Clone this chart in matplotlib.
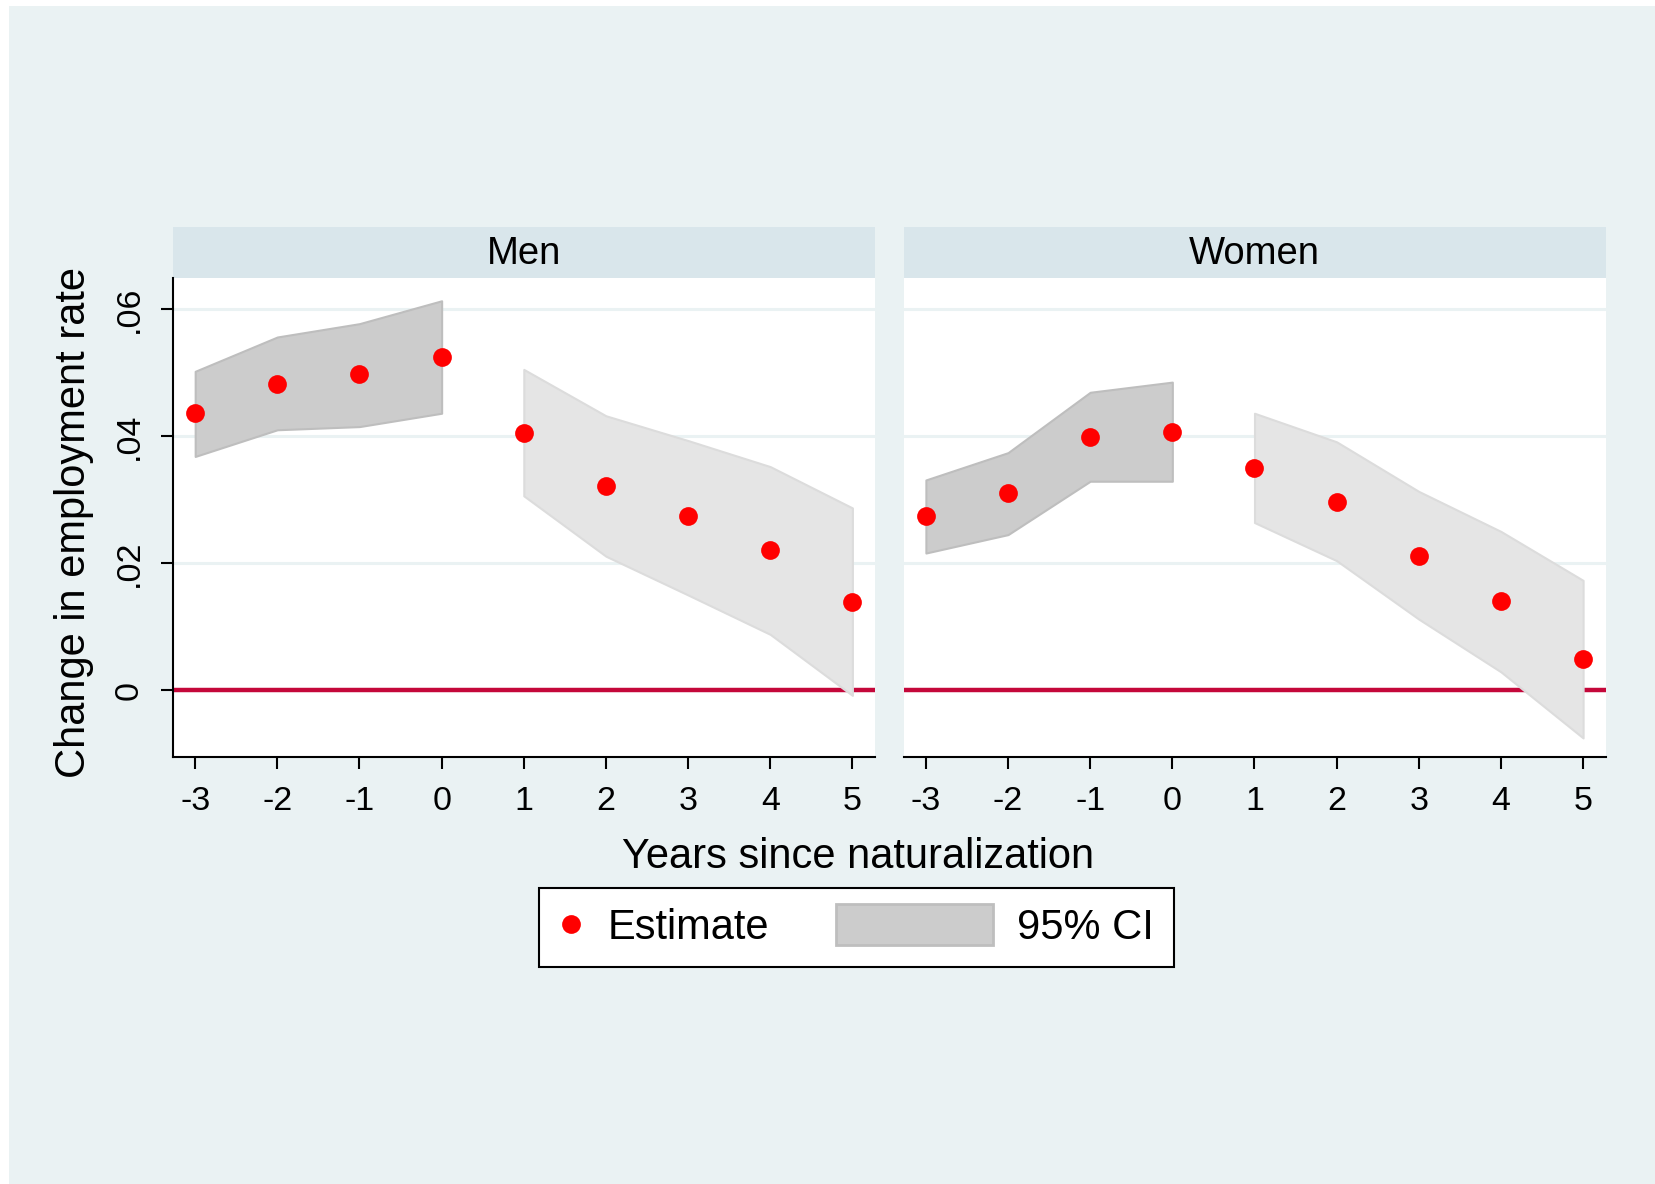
import matplotlib
matplotlib.use("Agg")
import matplotlib.pyplot as plt
import numpy as np
from matplotlib.lines import Line2D
from matplotlib.patches import Patch, Rectangle
from matplotlib.legend_handler import HandlerPatch

plt.rcParams['font.family'] = ['Liberation Sans', 'DejaVu Sans']

# event-study estimates, years relative to naturalization
years = np.array([-3, -2, -1, 0, 1, 2, 3, 4, 5])

men_est = np.array([0.0436, 0.0482, 0.0497, 0.0524, 0.0405, 0.0321, 0.0274, 0.0220, 0.0139])
men_lo = np.array([0.0368, 0.0410, 0.0415, 0.0436, 0.0306, 0.0211, 0.0150, 0.0088, -0.0008])
men_hi = np.array([0.0502, 0.0556, 0.0577, 0.0613, 0.0505, 0.0432, 0.0393, 0.0352, 0.0287])

women_est = np.array([0.0274, 0.0310, 0.0399, 0.0406, 0.0350, 0.0296, 0.0211, 0.0141, 0.0049])
women_lo = np.array([0.0216, 0.0245, 0.0329, 0.0329, 0.0264, 0.0204, 0.0112, 0.0029, -0.0075])
women_hi = np.array([0.0331, 0.0374, 0.0469, 0.0485, 0.0436, 0.0391, 0.0313, 0.0250, 0.0173])

panel_names = ["Men", "Women"]
y_ticks = [0, 0.02, 0.04, 0.06]
y_tick_labels = ["0", ".02", ".04", ".06"]

BG = '#EAF2F3'
STRIP = '#D9E6EB'
GRID = '#EAF2F3'
ZERO = '#C4073A'
PRE_FILL, PRE_EDGE = '#CCCCCC', '#BEBEBE'
POST_FILL, POST_EDGE = '#E5E5E5', '#DCDCDC'

W, H = 1655, 1184
fig = plt.figure(figsize=(W / 100, H / 100), dpi=100, facecolor='white')
fig.add_artist(Rectangle((9 / W, 0), 1, 1 - 6 / H, transform=fig.transFigure,
                         facecolor=BG, edgecolor='none', zorder=-10))

panels = [(men_est, men_lo, men_hi), (women_est, women_lo, women_hi)]
lefts = [173 / W, 903.7 / W]
width = 702 / W
bottom = 1 - 757 / H
height = 479.1 / H
strip_h = 50.9 / 479.1

for i, (est, lo, hi) in enumerate(panels):
    ax = fig.add_axes([lefts[i], bottom, width, height])
    ax.set_facecolor('white')
    ax.set_xlim(-3.27, 5.275)
    ax.set_ylim(-0.0105, 0.0649)

    for g in y_ticks[1:]:
        ax.axhline(g, color=GRID, lw=2.2, zorder=1)
    ax.axhline(0, color=ZERO, lw=3.2, zorder=2)

    pre = years <= 0
    ax.fill_between(years[pre], lo[pre], hi[pre], facecolor=PRE_FILL,
                    edgecolor=PRE_EDGE, lw=1.5, zorder=3)
    ax.fill_between(years[~pre], lo[~pre], hi[~pre], facecolor=POST_FILL,
                    edgecolor=POST_EDGE, lw=1.5, zorder=3)
    ax.plot(years, est, 'o', color='red', ms=13.5, mew=0, zorder=4)

    for side in ['top', 'right']:
        ax.spines[side].set_visible(False)
    ax.spines['bottom'].set_linewidth(1.5)
    ax.spines['left'].set_linewidth(1.5)
    ax.spines['left'].set_visible(i == 0)

    ax.set_xticks(years)
    ax.set_xticklabels([str(y) for y in years])
    ax.tick_params(axis='x', length=8.6, width=1.5, pad=12.5, labelsize=24.5)
    if i == 0:
        ax.set_yticks(y_ticks)
        ax.set_yticklabels(y_tick_labels, rotation=90, va='center')
        ax.tick_params(axis='y', length=8.6, width=1.5, pad=11.5, labelsize=24.5)
    else:
        ax.set_yticks([])

    # facet strip on top of each panel
    ax.add_patch(Rectangle((0, 1), 1, strip_h, transform=ax.transAxes,
                           facecolor=STRIP, edgecolor='none', clip_on=False))
    ax.text(0.5, (757 - 263.8) / 479.1, panel_names[i],
            transform=ax.transAxes, ha='center', va='baseline', fontsize=27.5)

fig.text(74 / W, 1 - 522.5 / H, "Change in employment rate", rotation=90,
         ha='center', va='center', fontsize=30)
fig.text(858 / W, 1 - 867.6 / H, "Years since naturalization",
         ha='center', va='baseline', fontsize=30)


def wide_key(legend, orig_handle, xdescent, ydescent, width, height, fontsize):
    # the CI key is much wider than the marker key
    w = 3.77 * fontsize
    h = 0.98 * fontsize
    return Rectangle((width - xdescent - w, -ydescent + height / 2 - h / 2), w, h)


handles = [Line2D([], [], ls='none', marker='o', color='red', ms=13.5, mew=0),
           Patch(facecolor=PRE_FILL, edgecolor=PRE_EDGE, lw=2)]
leg = fig.legend(handles, ["Estimate", "95% CI"], ncol=2, fontsize=30,
                 handlelength=0.58, handleheight=0.7, handletextpad=0.58,
                 columnspacing=4.8, borderpad=0.47, borderaxespad=0,
                 loc='center', bbox_to_anchor=(856.5 / W, 1 - 927.8 / H),
                 bbox_transform=fig.transFigure, fancybox=False,
                 edgecolor='black', facecolor='white', framealpha=1,
                 handler_map={Patch: HandlerPatch(patch_func=wide_key)})
leg.get_frame().set_linewidth(1.5)

fig.savefig("out.png", dpi=100, facecolor=fig.get_facecolor())
